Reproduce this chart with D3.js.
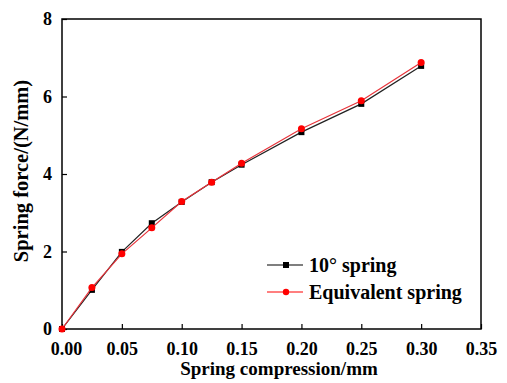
<!DOCTYPE html>
<html lang="en">
<head>
<meta charset="UTF-8">
<script src="https://d3js.org/d3.v7.min.js"></script>
<style>
  body { margin: 0; background: #fff; }
  text { font-family: "Liberation Serif", "Times New Roman", serif; font-weight: bold; fill: #000; }
</style>
</head>
<body>
<svg width="507" height="383"></svg>
<script>
    // data
    var compression = [0, 0.025, 0.05, 0.075, 0.1, 0.125, 0.15, 0.2, 0.25, 0.3];
    var force10 = [0, 1.01, 1.99, 2.73, 3.28, 3.79, 4.24, 5.08, 5.81, 6.79];
    var forceEq = [0, 1.07, 1.94, 2.61, 3.29, 3.79, 4.28, 5.17, 5.89, 6.88];
    var xTicks = [0, 0.05, 0.1, 0.15, 0.2, 0.25, 0.3, 0.35];
    var yTicks = [0, 2, 4, 6, 8];
    var seriesNames = ["10\u00b0 spring", "Equivalent spring"];

    var svg = d3.select("svg"),
        margin = {top: 19, right: 26, bottom: 54, left: 62},
        width = +svg.attr("width") - margin.left - margin.right,
        height = +svg.attr("height") - margin.top - margin.bottom;

    var g = svg.append("g")
        .attr("transform", "translate(" + margin.left + "," + margin.top + ")");

    var x = d3.scaleLinear().domain([0, 0.35]).range([0, width]);
    var y = d3.scaleLinear().domain([0, 8]).range([height, 0]);

    // axes, ticks pointing inward
    var xAxis = g.append("g")
        .attr("transform", "translate(0," + height + ")")
        .call(d3.axisBottom(x).tickValues(xTicks).tickFormat(d3.format(".2f"))
            .tickSizeInner(-5).tickSizeOuter(0).tickPadding(13));
    var yAxis = g.append("g")
        .call(d3.axisLeft(y).tickValues(yTicks).tickFormat(d3.format("d"))
            .tickSizeInner(-5).tickSizeOuter(0).tickPadding(10));

    [xAxis, yAxis].forEach(function(a) {
        a.select(".domain").remove();
        a.selectAll("line").attr("stroke", "#000").attr("stroke-width", 1.2);
        a.selectAll("text").style("font-size", "18px")
            .style("font-family", '"Liberation Serif", serif').style("font-weight", "bold");
    });
    xAxis.selectAll("text").attr("dy", "0.71em")
        .attr("dx", function(d) { return d === 0 ? 4 : 0; });

    // frame
    g.append("rect")
        .attr("width", width)
        .attr("height", height)
        .attr("fill", "none")
        .attr("stroke", "#000")
        .attr("stroke-width", 1.5);

    var line = d3.line()
        .x(function(d) { return x(d[0]); })
        .y(function(d) { return y(d[1]); });

    var pts10 = compression.map(function(c, i) { return [c, force10[i]]; });
    var ptsEq = compression.map(function(c, i) { return [c, forceEq[i]]; });

    g.append("path").datum(pts10)
        .attr("d", line).attr("fill", "none")
        .attr("stroke", "#222").attr("stroke-width", 1.2);
    g.selectAll(".sq").data(pts10).enter().append("rect")
        .attr("class", "sq")
        .attr("x", function(d) { return x(d[0]) - 3; })
        .attr("y", function(d) { return y(d[1]) - 3; })
        .attr("width", 6).attr("height", 6)
        .attr("fill", "#000");

    g.append("path").datum(ptsEq)
        .attr("d", line).attr("fill", "none")
        .attr("stroke", "#e8333a").attr("stroke-width", 1.2);
    g.selectAll(".dot").data(ptsEq).enter().append("circle")
        .attr("class", "dot")
        .attr("cx", function(d) { return x(d[0]); })
        .attr("cy", function(d) { return y(d[1]); })
        .attr("r", 3.5)
        .attr("fill", "#f00");

    // axis titles
    svg.append("text")
        .attr("x", 279)
        .attr("y", 375)
        .attr("text-anchor", "middle")
        .style("font-size", "19px")
        .text("Spring compression/mm");

    svg.append("text")
        .attr("transform", "translate(28,171) rotate(-90)")
        .attr("text-anchor", "middle")
        .style("font-size", "20.5px")
        .text("Spring force/(N/mm)");

    // legend
    var legend = svg.append("g").attr("transform", "translate(267,265)");
    seriesNames.forEach(function(name, i) {
        var row = legend.append("g").attr("transform", "translate(0," + (i * 27) + ")");
        row.append("line")
            .attr("x1", 0).attr("x2", 36)
            .attr("stroke", i === 0 ? "#000" : "#f00")
            .attr("stroke-width", 1.2);
        if (i === 0) {
            row.append("rect").attr("x", 16).attr("y", -3).attr("width", 6).attr("height", 6).attr("fill", "#000");
        } else {
            row.append("circle").attr("cx", 19).attr("cy", 0).attr("r", 3.2).attr("fill", "#f00");
        }
        row.append("text")
            .attr("x", 42)
            .attr("y", 7)
            .style("font-size", "20px")
            .text(name);
    });
</script>
</body>
</html>
